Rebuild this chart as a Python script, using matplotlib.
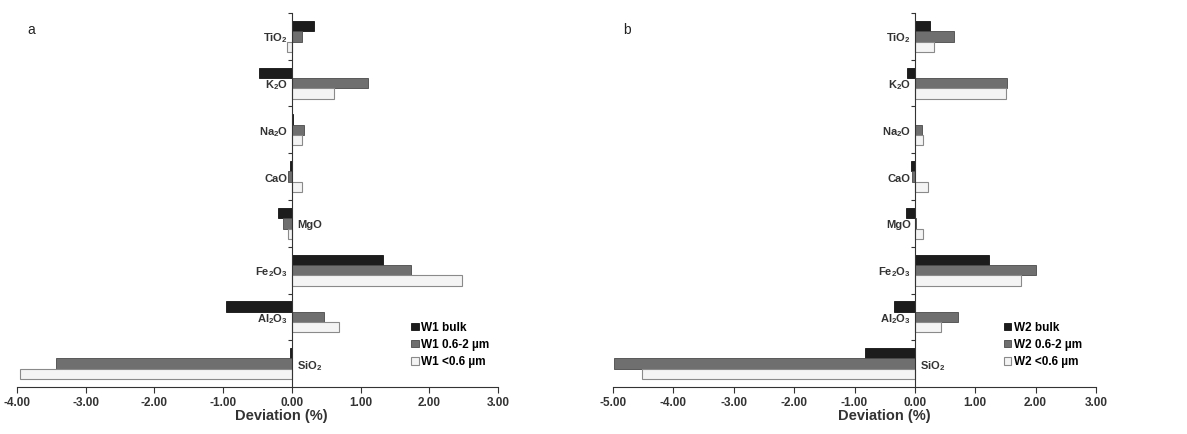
import matplotlib
matplotlib.use('Agg')
import matplotlib.pyplot as plt
import numpy as np

plt.rcParams['font.family'] = ['Liberation Sans', 'DejaVu Sans']

oxides = ['TiO$\\mathregular{_2}$', 'K$\\mathregular{_2}$O', 'Na$\\mathregular{_2}$O', 'CaO',
          'MgO', 'Fe$\\mathregular{_2}$O$\\mathregular{_3}$', 'Al$\\mathregular{_2}$O$\\mathregular{_3}$',
          'SiO$\\mathregular{_2}$']

# panel a (W1)
w1_bulk = [0.32, -0.48, 0.02, -0.02, -0.20, 1.32, -0.96, -0.03]
w1_mid = [0.15, 1.11, 0.18, -0.06, -0.13, 1.74, 0.47, -3.43]
w1_fine = [-0.07, 0.61, 0.15, 0.15, -0.06, 2.48, 0.69, -3.95]

# panel b (W2)
w2_bulk = [0.25, -0.13, 0.01, -0.07, -0.14, 1.23, -0.35, -0.82]
w2_mid = [0.65, 1.52, 0.12, -0.05, 0.02, 2.01, 0.72, -4.99]
w2_fine = [0.31, 1.51, 0.14, 0.22, 0.13, 1.75, 0.44, -4.52]

labels_a = ['W1 bulk', 'W1 0.6-2 \u00b5m', 'W1 <0.6 \u00b5m']
labels_b = ['W2 bulk', 'W2 0.6-2 \u00b5m', 'W2 <0.6 \u00b5m']

# which side of the axis each oxide name sits on
side_a = ['l', 'l', 'l', 'l', 'r', 'l', 'l', 'r']
side_b = ['l', 'l', 'l', 'l', 'l', 'l', 'l', 'r']

fig = plt.figure(figsize=(11.87, 4.34), dpi=100)
ax_a = fig.add_axes([17/1187, 47/434, 481/1187, 374/434])
ax_b = fig.add_axes([613/1187, 47/434, 483/1187, 374/434])


def panel(ax, bulk, mid, fine, labels, sides, xmin, letter, xlab_x, leg_x):
    y = np.arange(len(oxides))
    h = 0.22
    ax.barh(y - h, bulk, height=h, color='#1c1c1c', edgecolor='#111111', linewidth=0.6, label=labels[0])
    ax.barh(y, mid, height=h, color='#6f6f6f', edgecolor='#4a4a4a', linewidth=0.6, label=labels[1])
    ax.barh(y + h, fine, height=h, color='#f4f4f4', edgecolor='#8a8a8a', linewidth=0.8, label=labels[2])

    ax.set_xlim(xmin, 3)
    ax.set_ylim(len(oxides) - 0.5, -0.5)
    ax.set_xticks(np.arange(xmin, 3.01, 1))
    ax.set_xticklabels(['%.2f' % v for v in np.arange(xmin, 3.01, 1)], fontsize=8.5,
                       fontweight='bold', color='#333333')
    ax.set_yticks(np.arange(-0.5, len(oxides) - 0.5, 1))
    ax.set_yticklabels([])
    ax.tick_params(axis='y', length=3, width=0.8, color='#333333')
    ax.tick_params(axis='x', length=4, width=0.8, color='#333333', pad=3)

    ax.spines['top'].set_visible(False)
    ax.spines['right'].set_visible(False)
    ax.spines['left'].set_position(('data', 0))
    ax.spines['left'].set_color('#333333')
    ax.spines['bottom'].set_color('#333333')

    for i, name in enumerate(oxides):
        if sides[i] == 'l':
            ax.annotate(name, (0, i), xytext=(-3, -1.5), textcoords='offset points',
                        ha='right', va='center', fontsize=8, fontweight='bold', color='#333333')
        else:
            ax.annotate(name, (0, i), xytext=(4, -1.5), textcoords='offset points',
                        ha='left', va='center', fontsize=8, fontweight='bold', color='#333333')

    ax.set_xlabel('Deviation (%)', fontsize=10.5, fontweight='bold', color='#333333')
    ax.xaxis.set_label_coords(xlab_x, -0.06)
    ax.text(0.022, 0.945, letter, transform=ax.transAxes, fontsize=10, color='#222222')

    ax.legend(loc='upper left', bbox_to_anchor=(leg_x, 0.175), frameon=False,
              handlelength=0.6, handleheight=0.6, handletextpad=0.25, labelspacing=0.45,
              borderpad=0, borderaxespad=0, prop={'weight': 'bold', 'size': 8.5})


panel(ax_a, w1_bulk, w1_mid, w1_fine, labels_a, side_a, -4, 'a', (281 - 17) / 481, 0.82)
panel(ax_b, w2_bulk, w2_mid, w2_fine, labels_b, side_b, -5, 'b', (884 - 613) / 483, 0.81)

fig.savefig('out.png', dpi=100)
